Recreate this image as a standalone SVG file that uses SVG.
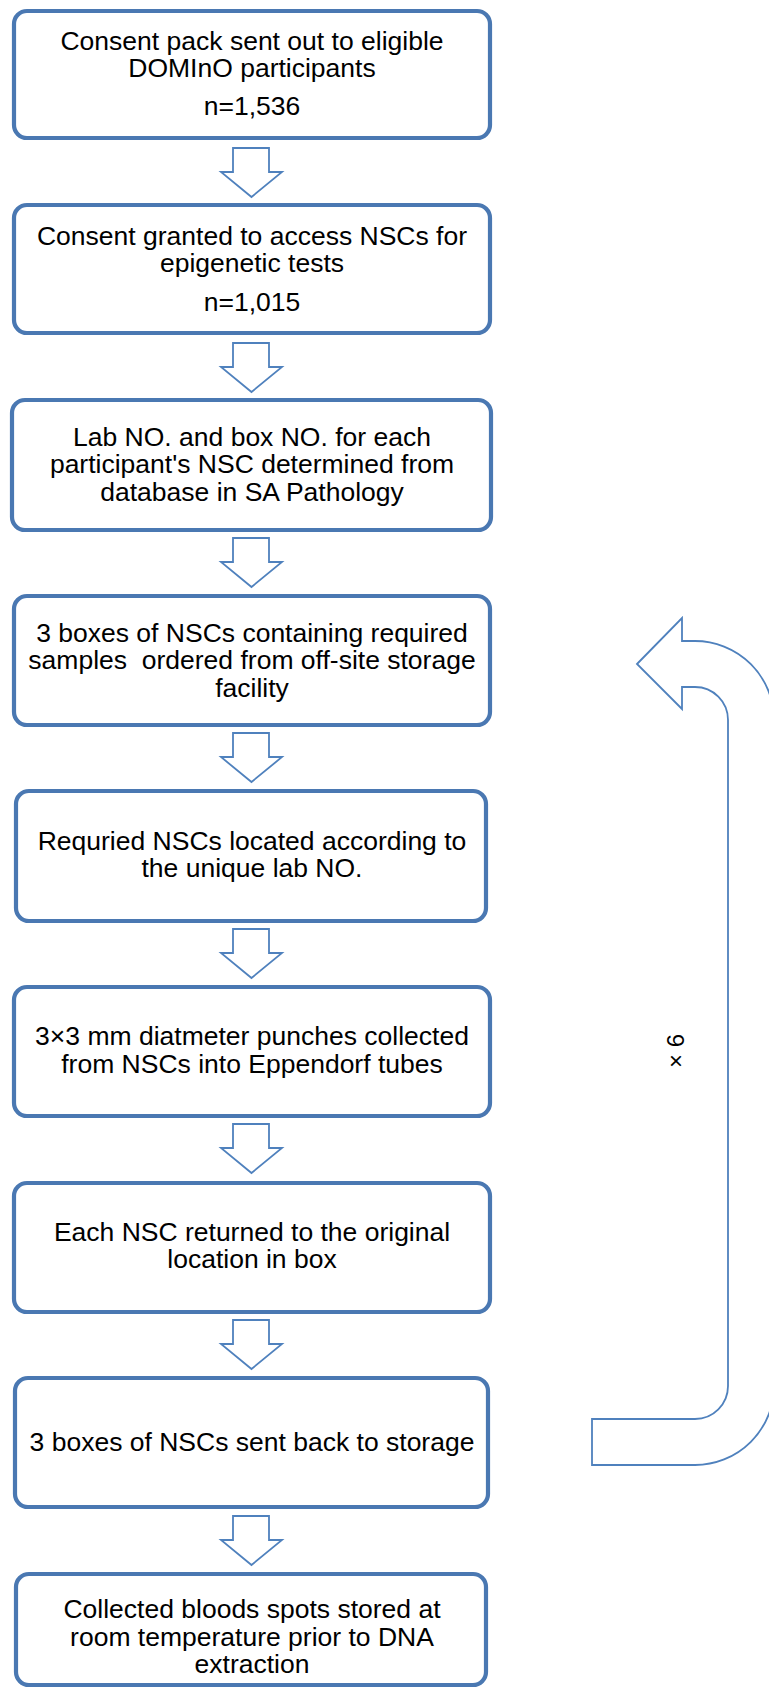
<svg xmlns="http://www.w3.org/2000/svg" width="769" height="1699" viewBox="0 0 769 1699">
<style>
.box{fill:#fff;stroke:#4A78B2;stroke-width:4.2}
.arr{fill:#fff;stroke:#4F81BD;stroke-width:1.8;stroke-linejoin:miter}
text{font-family:"Liberation Sans",Arial,sans-serif;font-size:26.5px;fill:#000;text-anchor:middle}
</style>
<defs>
<path id="dn" d="M233,0 H269 V24 H282 L251.5,49 L221,24 H233 Z"/>
</defs>
<rect width="769" height="1699" fill="#fff"/>
<g id="connectors">
<use href="#dn" class="arr" transform="translate(0,148)"/>
<use href="#dn" class="arr" transform="translate(0,343)"/>
<use href="#dn" class="arr" transform="translate(0,538)"/>
<use href="#dn" class="arr" transform="translate(0,733)"/>
<use href="#dn" class="arr" transform="translate(0,929)"/>
<use href="#dn" class="arr" transform="translate(0,1124)"/>
<use href="#dn" class="arr" transform="translate(0,1320)"/>
<use href="#dn" class="arr" transform="translate(0,1516)"/>
<path id="loop" class="arr" d="M637,664 L682,618 V641 H695 A79,79 0 0 1 774,720 V1386 A79,79 0 0 1 695,1465 H592 V1419 H695 A33,33 0 0 0 728,1386 V720 A33,33 0 0 0 695,687 H682 V709 Z"/>
</g>
<g id="loop-label">
<text transform="translate(684,1051) rotate(-90)" x="0" y="0" style="font-size:24px">× 6</text>
</g>
<g id="n1">
<rect class="box" x="14" y="11" width="476" height="127" rx="13"/>
<text x="252" y="50">Consent pack sent out to eligible</text>
<text x="252" y="77">DOMInO participants</text>
<text x="252" y="115">n=1,536</text>
</g>
<g id="n2">
<rect class="box" x="14" y="205" width="476" height="128" rx="13"/>
<text x="252" y="245">Consent granted to access NSCs for</text>
<text x="252" y="272">epigenetic tests</text>
<text x="252" y="311">n=1,015</text>
</g>
<g id="n3">
<rect class="box" x="12" y="400" width="479" height="130" rx="13"/>
<text x="252" y="446">Lab NO. and box NO. for each</text>
<text x="252" y="473">participant's NSC determined from</text>
<text x="252" y="501">database in SA Pathology</text>
</g>
<g id="n4">
<rect class="box" x="14" y="596" width="476" height="129" rx="13"/>
<text x="252" y="642">3 boxes of NSCs containing required</text>
<text x="252" y="669" xml:space="preserve">samples  ordered from off-site storage</text>
<text x="252" y="697">facility</text>
</g>
<g id="n5">
<rect class="box" x="16" y="791" width="470" height="130" rx="13"/>
<text x="252" y="850">Requried NSCs located according to</text>
<text x="252" y="877">the unique lab NO.</text>
</g>
<g id="n6">
<rect class="box" x="14" y="987" width="476" height="129" rx="13"/>
<text x="252" y="1045">3×3 mm diatmeter punches collected</text>
<text x="252" y="1073">from NSCs into Eppendorf tubes</text>
</g>
<g id="n7">
<rect class="box" x="14" y="1183" width="476" height="129" rx="13"/>
<text x="252" y="1241">Each NSC returned to the original</text>
<text x="252" y="1268">location in box</text>
</g>
<g id="n8">
<rect class="box" x="15" y="1378" width="473" height="129" rx="13"/>
<text x="252" y="1451">3 boxes of NSCs sent back to storage</text>
</g>
<g id="n9">
<rect class="box" x="16" y="1574" width="470" height="111" rx="13"/>
<text x="252" y="1618">Collected bloods spots stored at</text>
<text x="252" y="1646">room temperature prior to DNA</text>
<text x="252" y="1673">extraction</text>
</g>
</svg>
